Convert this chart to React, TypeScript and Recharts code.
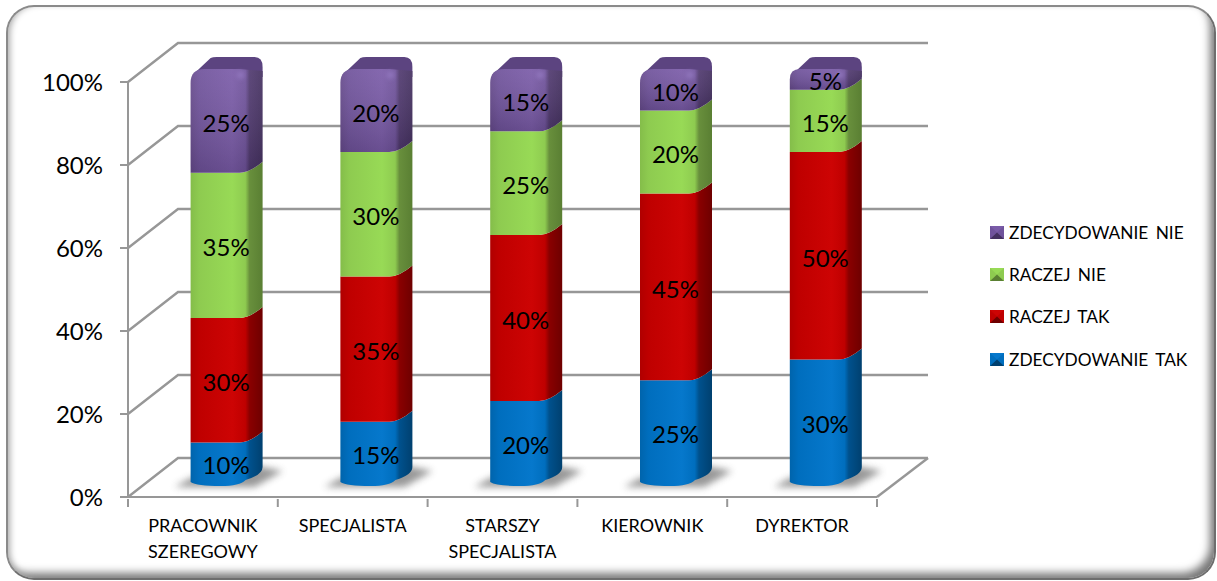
import React from 'react';
import { BarChart, Bar, XAxis, YAxis, CartesianGrid, Legend, LabelList } from 'recharts';

const categories = ['PRACOWNIK SZEREGOWY', 'SPECJALISTA', 'STARSZY SPECJALISTA', 'KIEROWNIK', 'DYREKTOR'];
const zdecydowanieTak = [10, 15, 20, 25, 30];
const raczejTak = [30, 35, 40, 45, 50];
const raczejNie = [35, 30, 25, 20, 15];
const zdecydowanieNie = [25, 20, 15, 10, 5];
const yTicks = [0, 20, 40, 60, 80, 100];

const data = categories.map((name, i) => ({
  name,
  zdecydowanieTak: zdecydowanieTak[i],
  raczejTak: raczejTak[i],
  raczejNie: raczejNie[i],
  zdecydowanieNie: zdecydowanieNie[i],
}));

// colours per series: edge, face, highlight, side, deep side
const palette: Record<string, string[]> = {
  blue: ['#0064ac', '#006ebe', '#0678cc', '#00518d', '#00406f'],
  red: ['#b00000', '#bf0000', '#cd0404', '#8a0000', '#6e0000'],
  green: ['#84bd4a', '#8ecb50', '#98da56', '#688f3c', '#5a7f33'],
  purple: ['#664a8c', '#6f529b', '#7a5ba8', '#50396f', '#443060'],
};

const AXIS_GREY = '#979797';
const DEPTH_X = 50;
const DEPTH_Y = 39;
const BAR_DX = 17.6;
const BAR_DY = -13;
const SIDE_X = 13;
const SIDE_Y = 11;
const BAND = 149.8;

const Segment = (props: any) => {
  const { x, y, width, height, colorKey, first, last } = props;
  const l = x + BAR_DX;
  const t = y + BAR_DY;
  const b = t + height;
  const fr = l + width - 10; // where the front face bends into the side
  const r = l + width + SIDE_X;
  const rad = Math.min(14, height / 2);
  const top = last
    ? `M${l} ${t + rad} Q${l} ${t} ${l + rad} ${t} L${fr} ${t} L${r} ${t + 2}`
    : `M${l} ${t} L${fr} ${t} Q${fr + 10} ${t} ${r} ${t - SIDE_Y}`;
  const bottom = first
    ? `L${r} ${b - SIDE_Y - 6} Q${r} ${b - SIDE_Y + 2} ${fr + 6} ${b - 4} Q${fr} ${b + 2} ${l + 30} ${b + 2} Q${l + 6} ${b + 2} ${l} ${b - 2}`
    : `L${r} ${b - SIDE_Y} Q${fr + 10} ${b} ${fr} ${b} L${l} ${b}`;
  return (
    <g>
      {first && (
        <path
          d={`M${l - 16} ${b + 3} L${l + width + 5} ${b + 3} L${r + 20} ${b - 13} L${r - 5} ${b - 18} L${l} ${b - 6} Z`}
          fill="#555"
          opacity={0.6}
          filter="url(#floorShadow)"
        />
      )}
      {last && (
        <path
          d={`M${l + 2} ${t + 6} L${l + 20} ${t - SIDE_Y} Q${l + 22} ${t - SIDE_Y - 1} ${l + 26} ${t - SIDE_Y - 1} L${r - 8} ${t - SIDE_Y - 1} Q${r} ${t - SIDE_Y - 1} ${r} ${t - 2} L${r} ${t + 8} L${l + width} ${t + 8} Z`}
          fill="#5c4480"
        />
      )}
      <path d={`${top} ${bottom} Z`} fill={`url(#grad-${colorKey})`} />
      {colorKey === 'purple' && <path d={`${top} ${bottom} Z`} fill="url(#purpleShade)" />}
      {last && <circle cx={l + width - 9} cy={t + 6} r={4} fill="#9a7fc8" opacity={0.6} filter="url(#softGlow)" />}
    </g>
  );
};

const BarLabel = (props: any) => {
  const { x, y, width, height, value } = props;
  return (
    <text
      x={x + BAR_DX + width / 2 + 6}
      y={y + BAR_DY + height / 2 + 11}
      textAnchor="middle"
      fontFamily="Lato"
      fontSize={24}
      fill="#000"
    >
      {value}%
    </text>
  );
};

const GridLine = (props: any) => {
  const { x1, x2, y1, index } = props;
  const by = y1 - DEPTH_Y;
  const d = `M${x1} ${y1} L${x1 + DEPTH_X} ${by} L${x2 + DEPTH_X + 1} ${by}`;
  return (
    <g key={index}>
      <path d={d} fill="none" stroke={AXIS_GREY} strokeWidth={2.4} />
      {Math.round(y1) >= 496 && <path d={`M${x2} ${y1} L${x2 + DEPTH_X + 1} ${by}`} fill="none" stroke={AXIS_GREY} strokeWidth={2.4} />}
    </g>
  );
};

const CategoryTick = (props: any) => {
  const { x, y, payload, index } = props;
  const lines = String(payload.value).split(' ');
  const left = x - BAND / 2;
  const right = x + BAND / 2;
  return (
    <g>
      <path d={`M${left} ${y - 8} V${y}`} stroke={AXIS_GREY} strokeWidth={2} />
      {index === categories.length - 1 && <path d={`M${right} ${y - 8} V${y}`} stroke={AXIS_GREY} strokeWidth={2} />}
      <text x={x} y={y} textAnchor="middle" fontFamily="Lato" fontSize={18} fill="#000">
        {lines.map((line, i) => (
          <tspan key={line} x={x} dy={i === 0 ? 25 : 26}>
            {line}
          </tspan>
        ))}
      </text>
    </g>
  );
};

const legendKeys: Record<string, string> = {
  'ZDECYDOWANIE NIE': 'purple',
  'RACZEJ NIE': 'green',
  'RACZEJ TAK': 'red',
  'ZDECYDOWANIE TAK': 'blue',
};

const LegendBox = (props: any) => {
  const items = [...(props.payload || [])].reverse();
  return (
    <div style={{ fontFamily: 'Lato', fontSize: 17.3, color: '#000' }}>
      {items.map((it: any) => {
        const c = palette[legendKeys[it.value]];
        return (
          <div key={it.value} style={{ display: 'flex', alignItems: 'center', height: 42.3, whiteSpace: 'pre' }}>
            <svg width={14} height={13} style={{ marginRight: 5 }}>
              <rect width={14} height={13} fill={c[2]} />
              <polygon points="0,0 7,6.5 0,13" fill={c[1]} />
              <polygon points="14,0 7,6.5 14,13" fill={c[1]} />
              <polygon points="0,13 7,6.5 14,13" fill={c[4]} />
            </svg>
            <span style={{ wordSpacing: 3 }}>{it.value}</span>
          </div>
        );
      })}
    </div>
  );
};

const series = [
  { key: 'zdecydowanieTak', name: 'ZDECYDOWANIE TAK', color: 'blue' },
  { key: 'raczejTak', name: 'RACZEJ TAK', color: 'red' },
  { key: 'raczejNie', name: 'RACZEJ NIE', color: 'green' },
  { key: 'zdecydowanieNie', name: 'ZDECYDOWANIE NIE', color: 'purple' },
];

export default function App() {
  return (
    <div style={{ position: 'absolute', left: 0, top: 0, width: 1217, height: 581, background: '#fff', overflow: 'hidden' }}>
      <div
        style={{
          position: 'absolute',
          left: 6,
          top: 5,
          width: 1206,
          height: 571,
          border: '2px solid #8a8a8a',
          borderRightColor: '#6e6e6e',
          borderBottomColor: '#6e6e6e',
          borderRadius: 28,
          boxShadow: 'inset 5px 0 6px -3px #aaa, inset -7px -8px 8px -3px #777',
        }}
      />
      <div style={{ position: 'absolute', left: 0, top: 0 }}>
        <BarChart
          width={1217}
          height={581}
          data={data}
          barSize={59}
          margin={{ top: 82, right: 125, bottom: 0, left: 0 }}
        >
          <defs>
            {Object.keys(palette).map((k) => {
              const c = palette[k];
              return (
                <linearGradient id={`grad-${k}`} key={k} x1="0" y1="0" x2="1" y2="0">
                  <stop offset="0" stopColor={c[0]} />
                  <stop offset="0.12" stopColor={c[1]} />
                  <stop offset="0.58" stopColor={c[2]} />
                  <stop offset="0.76" stopColor={c[1]} />
                  <stop offset="0.82" stopColor={c[3]} />
                  <stop offset="1" stopColor={c[4]} />
                </linearGradient>
              );
            })}
            <linearGradient id="purpleShade" x1="0" y1="0" x2="0" y2="1">
              <stop offset="0" stopColor="#fff" stopOpacity={0.08} />
              <stop offset="1" stopColor="#000" stopOpacity={0.14} />
            </linearGradient>
            <filter id="floorShadow" x="-30%" y="-60%" width="160%" height="220%">
              <feGaussianBlur stdDeviation="3.5" />
            </filter>
            <filter id="softGlow" x="-100%" y="-100%" width="300%" height="300%">
              <feGaussianBlur stdDeviation="2" />
            </filter>
          </defs>
          <CartesianGrid vertical={false} horizontal={(p: any) => <GridLine {...p} />} />
          <XAxis
            dataKey="name"
            height={84}
            interval={0}
            stroke={AXIS_GREY}
            strokeWidth={2}
            tickSize={8}
            tickLine={false}
            tick={(p: any) => <CategoryTick {...p} />}
          />
          <YAxis
            width={128}
            domain={[0, 100]}
            ticks={yTicks}
            interval={0}
            stroke={AXIS_GREY}
            strokeWidth={2}
            tickSize={8}
            tickMargin={17}
            tickFormatter={(v: number) => `${v}%`}
            tick={{ fill: '#000', fontFamily: 'Lato', fontSize: 24 }}
          />
          <Legend
            layout="vertical"
            align="right"
            verticalAlign="top"
            itemSorter={null}
            wrapperStyle={{ left: 990, top: 211, width: 215 }}
            content={(p: any) => <LegendBox {...p} />}
          />
          {series.map((s, i) => (
            <Bar
              key={s.key}
              dataKey={s.key}
              name={s.name}
              stackId="a"
              fill={palette[s.color][1]}
              isAnimationActive={false}
              shape={(p: any) => (
                <Segment {...p} colorKey={s.color} first={i === 0} last={i === series.length - 1} />
              )}
            >
              <LabelList dataKey={s.key} content={(p: any) => <BarLabel {...p} />} />
            </Bar>
          ))}
        </BarChart>
      </div>
    </div>
  );
}
